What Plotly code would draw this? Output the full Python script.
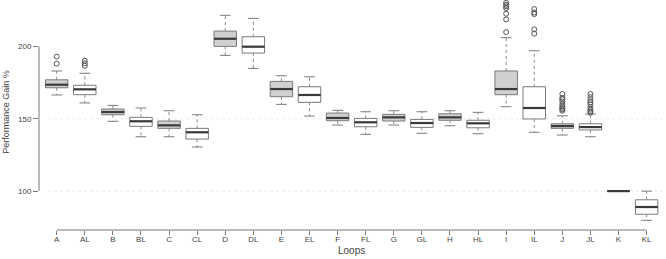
import plotly.graph_objects as go

cats = ["A", "AL", "B", "BL", "C", "CL", "D", "DL", "E", "EL", "F", "FL",
        "G", "GL", "H", "HL", "I", "IL", "J", "JL", "K", "KL"]
upper = [183.1, 181.5, 159.3, 157.5, 155.6, 152.8, 221.6, 219.5, 179.8, 179.1, 155.9, 154.9,
         155.6, 154.9, 155.6, 154.5, 206.1, 197.1, 152.1, 153.3, 100.0, 100.0]
q3 = [177.0, 173.2, 156.8, 151.0, 148.5, 143.4, 210.7, 206.8, 175.9, 172.2, 154.0, 150.3,
      153.1, 149.6, 153.5, 149.0, 183.1, 172.2, 146.6, 146.6, 100.0, 94.0]
median = [173.6, 170.4, 154.7, 148.3, 145.5, 140.7, 205.4, 199.9, 170.6, 166.5, 150.6, 147.6,
          151.0, 147.1, 151.0, 146.9, 170.6, 157.5, 145.0, 144.3, 100.0, 89.0]
q1 = [171.5, 166.7, 152.8, 144.8, 143.4, 136.0, 200.1, 195.5, 165.3, 161.4, 148.7, 144.5,
      148.5, 144.1, 149.0, 143.8, 166.7, 149.9, 143.4, 142.3, 100.0, 84.0]
lower = [166.5, 161.0, 148.3, 137.6, 137.6, 130.5, 193.9, 184.9, 160.0, 151.9, 145.7, 139.3,
         145.7, 140.0, 145.2, 139.7, 158.4, 140.7, 138.8, 137.6, 100.0, 79.8]
outliers = {
    "A": [188.1, 193.0],
    "AL": [186.7, 188.4, 190.2],
    "I": [210.0, 218.8, 222.7, 226.6, 227.8, 228.9, 230.3],
    "IL": [208.9, 211.9, 222.5, 223.6, 225.9],
    "J": [155.6, 156.5, 157.5, 158.5, 160.0, 162.0, 163.5, 164.5, 167.2],
    "JL": [154.2, 155.2, 156.3, 158.0, 160.0, 161.5, 163.0, 165.0, 167.2],
}
y_ticks = [100, 150, 200]
grid_levels = [100, 150]

pos = list(range(len(cats)))
filled = [i for i, c in enumerate(cats) if not c.endswith("L")]
hollow = [i for i, c in enumerate(cats) if c.endswith("L")]

fig = go.Figure()

# whiskers (dotted)
wx, wy = [], []
for i in pos:
    wx += [i, i, None, i, i, None]
    wy += [q3[i], upper[i], None, q1[i], lower[i], None]
fig.add_trace(go.Scatter(x=wx, y=wy, mode="lines", line=dict(color="#8a8a8a", width=1, dash="dot"),
                         hoverinfo="skip", showlegend=False))
# caps
cx, cy = [], []
for i in pos:
    cx += [i - 0.19, i + 0.19, None, i - 0.19, i + 0.19, None]
    cy += [upper[i], upper[i], None, lower[i], lower[i], None]
fig.add_trace(go.Scatter(x=cx, y=cy, mode="lines", line=dict(color="#7a7a7a", width=1),
                         hoverinfo="skip", showlegend=False))

for idxs, fill in [(filled, "#d0d0d0"), (hollow, "#ffffff")]:
    fig.add_trace(go.Box(
        x=idxs,
        q1=[q1[i] for i in idxs], median=[median[i] for i in idxs], q3=[q3[i] for i in idxs],
        lowerfence=[q1[i] for i in idxs], upperfence=[q3[i] for i in idxs],
        width=0.8, fillcolor=fill, line=dict(color="#7a7a7a", width=1),
        whiskerwidth=0, boxpoints=False, showlegend=False, hoverinfo="skip"))

# thick medians
mx, my = [], []
for i in pos:
    mx += [i - 0.4, i + 0.4, None]
    my += [median[i], median[i], None]
fig.add_trace(go.Scatter(x=mx, y=my, mode="lines", line=dict(color="#3a3a3a", width=2.2),
                         hoverinfo="skip", showlegend=False))

# outliers
ox, oy = [], []
for c, vals in outliers.items():
    i = cats.index(c)
    ox += [i] * len(vals)
    oy += vals
fig.add_trace(go.Scatter(x=ox, y=oy, mode="markers",
                         marker=dict(symbol="circle-open", size=5, color="#555555", line=dict(width=1)),
                         hoverinfo="skip", showlegend=False))

shapes = []
for g in grid_levels:
    shapes.append(dict(type="line", xref="paper", yref="y", x0=0.015, x1=1, y0=g, y1=g,
                       line=dict(color="#e8e8e8", width=1, dash="dot"), layer="below"))
shapes.append(dict(type="line", xref="paper", yref="y", x0=0, x1=0, y0=min(y_ticks), y1=max(y_ticks),
                   line=dict(color="#777777", width=1)))
shapes.append(dict(type="line", xref="x", yref="paper", x0=0, x1=len(cats) - 1, y0=0, y1=0,
                   line=dict(color="#777777", width=1)))

fig.update_layout(
    width=666, height=259,
    margin=dict(l=39, r=0, t=0, b=29),
    plot_bgcolor="white", paper_bgcolor="white",
    boxmode="overlay",
    font=dict(family="Liberation Sans, Arial, sans-serif", color="#444444", size=8),
    shapes=shapes,
    xaxis=dict(range=[-0.63, 21.69], tickmode="array", tickvals=pos, ticktext=cats,
               ticks="outside", ticklen=4, tickcolor="#777777", showline=False,
               showgrid=False, zeroline=False, ticklabelstandoff=-3,
               tickfont=dict(size=8, color="#444444")),
    yaxis=dict(range=[73.1, 232.2], tickmode="array", tickvals=y_ticks,
               ticks="outside", ticklen=5, tickcolor="#777777", showline=False,
               showgrid=False, zeroline=False, tickfont=dict(size=8, color="#444444")),
    annotations=[
        dict(text="Performance Gain %", xref="paper", yref="paper", x=-0.054, y=0.515,
             textangle=-90, showarrow=False, font=dict(size=9, color="#444444"),
             xanchor="center", yanchor="middle"),
        dict(text="Loops", xref="x", yref="paper", x=10.5, y=-0.09, showarrow=False,
             font=dict(size=10, color="#444444"), xanchor="center", yanchor="middle"),
    ],
)

fig.write_html("out.html")
